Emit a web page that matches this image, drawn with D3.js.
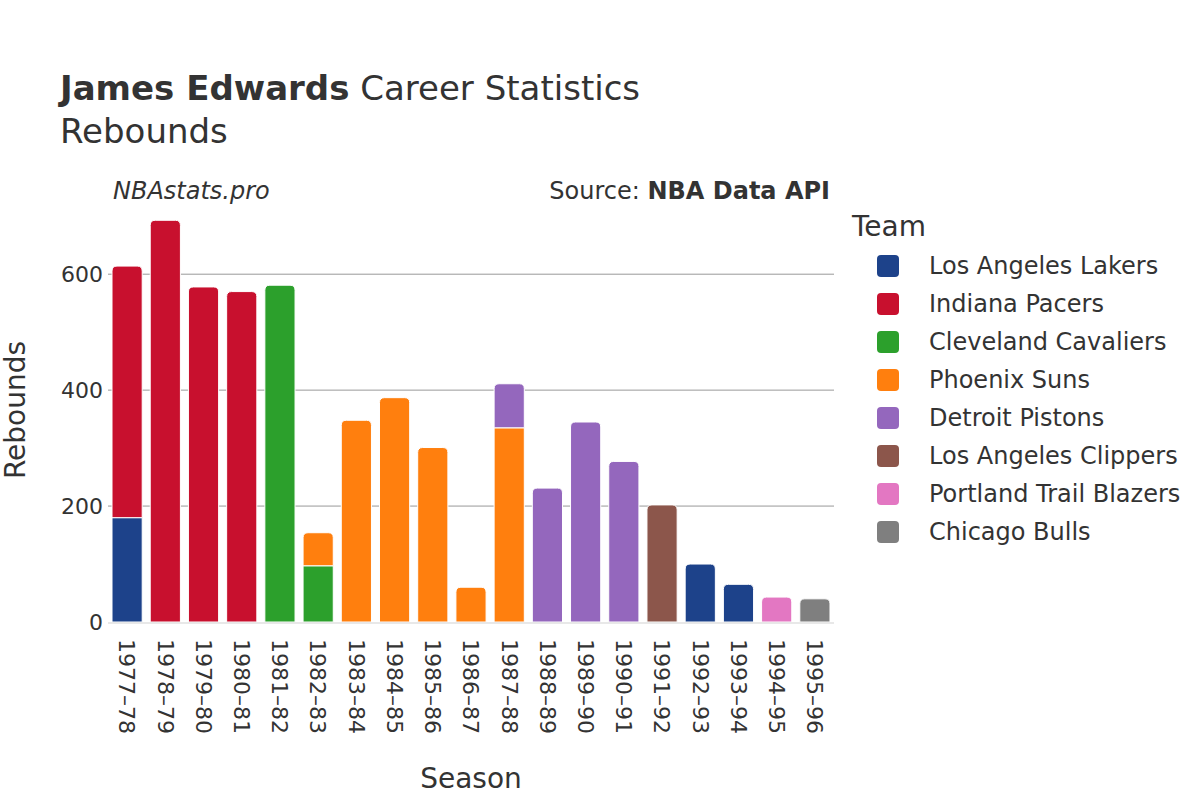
<!DOCTYPE html>
<html><head><meta charset="utf-8">
<script src="https://cdn.jsdelivr.net/npm/d3@7"></script>
<style>body{margin:0;background:#fff;} text{font-family:"DejaVu Sans",sans-serif;fill:#333;}</style>
</head><body>
<svg id="c" width="1200" height="800"></svg>
<script>
const seasons = ["1977–78","1978–79","1979–80","1980–81","1981–82","1982–83","1983–84","1984–85","1985–86","1986–87","1987–88","1988–89","1989–90","1990–91","1991–92","1992–93","1993–94","1994–95","1995–96"];
const teams = ["Los Angeles Lakers","Indiana Pacers","Cleveland Cavaliers","Phoenix Suns","Detroit Pistons","Los Angeles Clippers","Portland Trail Blazers","Chicago Bulls"];
const colors = ["#1d428a","#c8102e","#2ca02c","#ff7f0e","#9467bd","#8c564b","#e377c2","#7f7f7f"];
// rebounds per season per team (0 = did not play for team)
const lakers   = [180,0,0,0,0,0,0,0,0,0,0,0,0,0,0,100,65,0,0];
const pacers   = [434,693,578,570,0,0,0,0,0,0,0,0,0,0,0,0,0,0,0];
const cavs     = [0,0,0,0,581,97,0,0,0,0,0,0,0,0,0,0,0,0,0];
const suns     = [0,0,0,0,0,57,348,387,301,60,335,0,0,0,0,0,0,0,0];
const pistons  = [0,0,0,0,0,0,0,0,0,0,76,231,345,277,0,0,0,0,0];
const clippers = [0,0,0,0,0,0,0,0,0,0,0,0,0,0,202,0,0,0,0];
const blazers  = [0,0,0,0,0,0,0,0,0,0,0,0,0,0,0,0,0,43,0];
const bulls    = [0,0,0,0,0,0,0,0,0,0,0,0,0,0,0,0,0,0,40];
const series = [lakers,pacers,cavs,suns,pistons,clippers,blazers,bulls];
const yTicks = [0,200,400,600];

const svg = d3.select("#c");
const m = {l:108, r:834, t:200, b:622};
const x = d3.scaleBand().domain(seasons).range([m.l,m.r]).paddingInner(0.21).paddingOuter(0.105);
const y = d3.scaleLinear().domain([0,728]).range([m.b,m.t]);

// gridlines
svg.append("g").selectAll("line").data(yTicks.filter(d=>d>0)).join("line")
  .attr("x1",m.l).attr("x2",m.r).attr("y1",d=>y(d)).attr("y2",d=>y(d))
  .attr("stroke","#999").attr("stroke-width",1);

// stacked segments
const rows = [];
seasons.forEach((s,i)=>{
  let base=0; const segs=[];
  series.forEach((arr,t)=>{ if(arr[i]>0){ segs.push({s,t,y0:base,y1:base+arr[i]}); base+=arr[i]; } });
  segs.forEach((d,k)=>{ d.top = k===segs.length-1; rows.push(d); });
});
function segPath(d){
  const x0=x(d.s), w=x.bandwidth(), yt=y(d.y1), yb=y(d.y0);
  const r = d.top ? Math.min(5,(yb-yt)/2) : 0;
  return `M${x0},${yb}V${yt+r}Q${x0},${yt} ${x0+r},${yt}H${x0+w-r}Q${x0+w},${yt} ${x0+w},${yt+r}V${yb}Z`;
}
svg.append("g").selectAll("path").data(rows).join("path")
  .attr("d",segPath).attr("fill",d=>colors[d.t])
  .attr("stroke","#fff").attr("stroke-width",1);

// zero line
svg.append("line").attr("x1",m.l).attr("x2",m.r).attr("y1",y(0)+1).attr("y2",y(0)+1)
  .attr("stroke","#e8e8e8").attr("stroke-width",2);

// y axis labels
const ya = svg.append("g").attr("transform",`translate(${m.l},0)`)
  .call(d3.axisLeft(y).tickValues(yTicks).tickSize(0).tickPadding(5));
ya.select(".domain").remove();
ya.selectAll("text").style("font-size","22px").style("font-family","DejaVu Sans").attr("fill","#333");

// x axis labels
const xa = svg.append("g").attr("transform",`translate(0,${m.b})`)
  .call(d3.axisBottom(x).tickSize(0));
xa.select(".domain").remove();
xa.selectAll("text").style("font-size","22px").style("font-family","DejaVu Sans").attr("fill","#333")
  .attr("transform","rotate(90)").attr("text-anchor","start").attr("dy","0.35em").attr("dx","0").attr("x",17).attr("y",0);

// titles
const t = svg.append("text").attr("x",60).attr("y",100).style("font-size","34px");
t.append("tspan").text("James Edwards").style("font-weight","bold");
t.append("tspan").text(" Career Statistics");
svg.append("text").attr("x",60).attr("y",143).style("font-size","34px").text("Rebounds");
svg.append("text").attr("x",113).attr("y",199).style("font-size","24px").style("font-style","italic").text("NBAstats.pro");
const src = svg.append("text").attr("x",830).attr("y",199).attr("text-anchor","end").style("font-size","24px");
src.append("tspan").text("Source: ");
src.append("tspan").text("NBA Data API").style("font-weight","bold");

svg.append("text").attr("x",471).attr("y",788).attr("text-anchor","middle").style("font-size","28px").text("Season");
svg.append("text").attr("transform","translate(25,410) rotate(-90)").attr("text-anchor","middle").style("font-size","28px").text("Rebounds");

// legend
svg.append("text").attr("x",852).attr("y",236).style("font-size","28px").text("Team");
const lg = svg.append("g").selectAll("g").data(teams).join("g")
  .attr("transform",(d,i)=>`translate(877,${255+i*38})`);
lg.append("rect").attr("width",22).attr("height",22).attr("rx",4).attr("fill",(d,i)=>colors[i]);
lg.append("text").attr("x",52).attr("y",19).style("font-size","24px").text(d=>d);
</script>
</body></html>
